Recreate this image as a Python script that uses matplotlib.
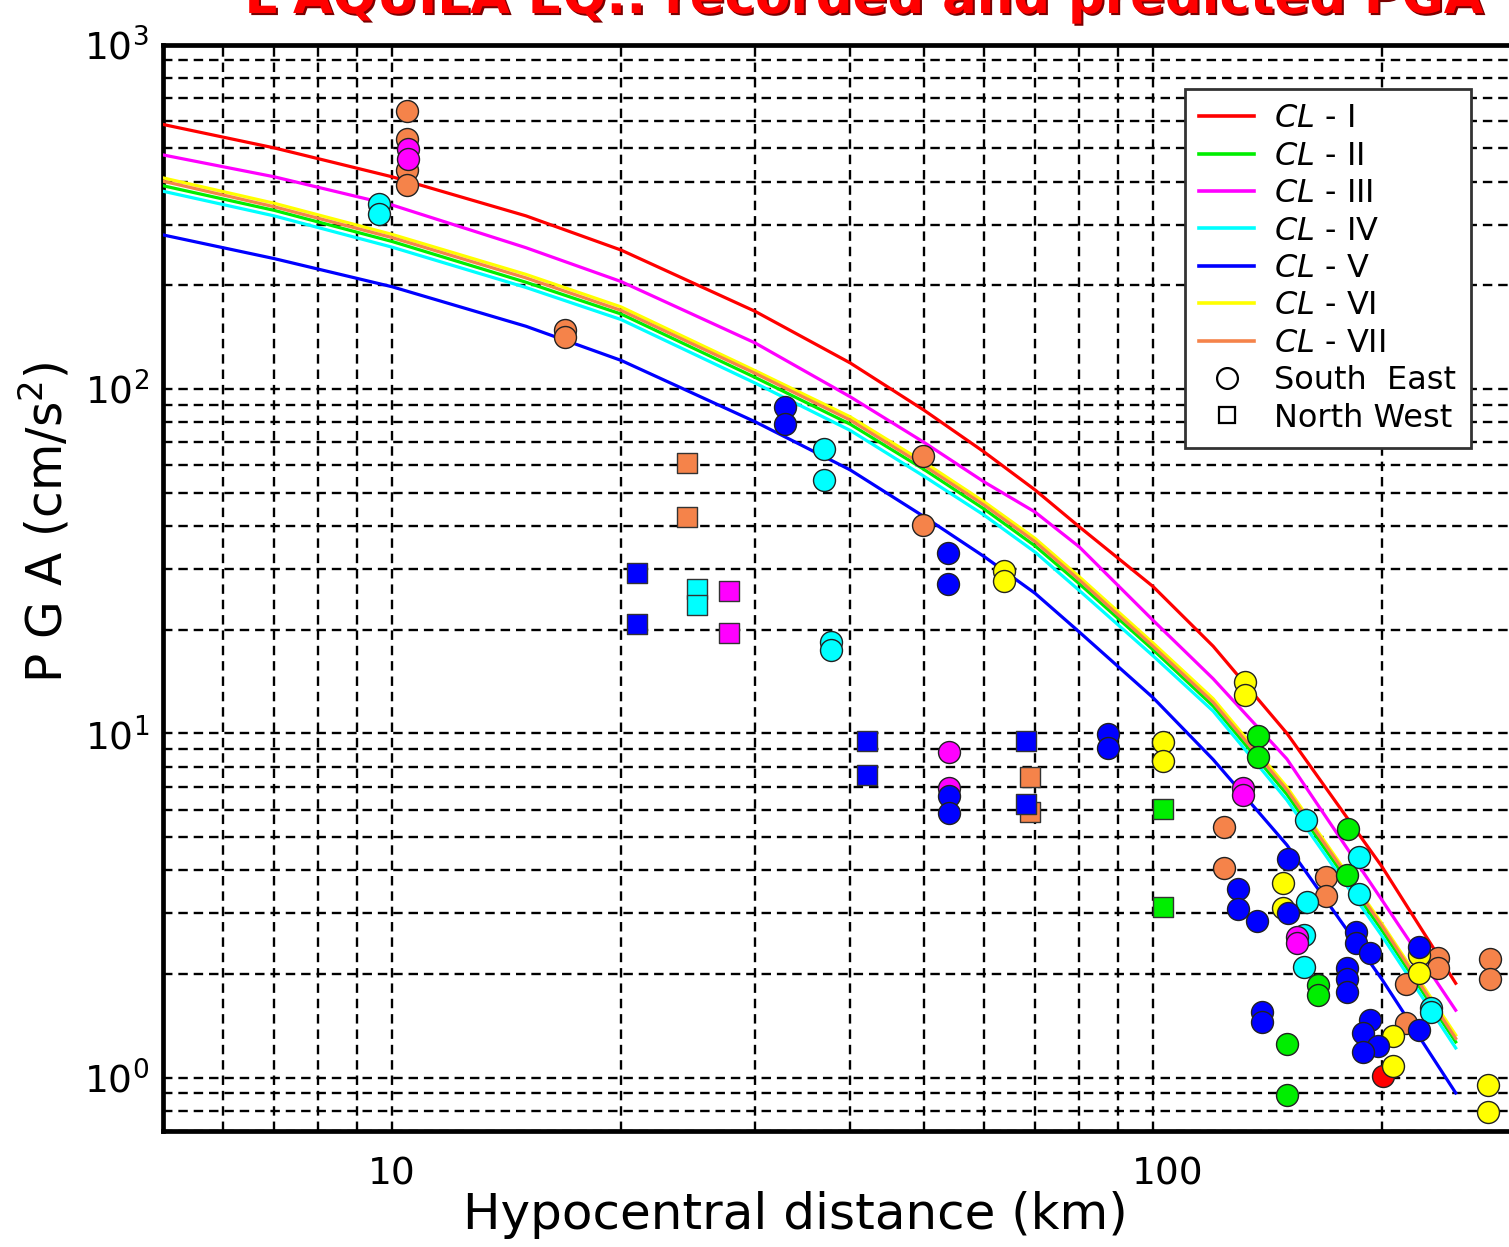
import matplotlib
matplotlib.use("Agg")
import matplotlib.pyplot as plt
import matplotlib.patheffects as pe
import matplotlib.transforms as mtransforms
from matplotlib.lines import Line2D
from matplotlib.ticker import FuncFormatter, NullFormatter, FixedLocator

plt.rcParams['font.family'] = ['DejaVu Sans']
plt.rcParams['mathtext.fontset'] = 'dejavusans'

# --- predicted curves (hypocentral distance km -> PGA cm/s2) ---
dist_curve = [5, 7, 10, 15, 20, 30, 40, 50, 60, 70, 80, 100, 120, 150, 200, 250]
cl_1 = [586, 501, 413, 318, 253, 168, 119, 86.8, 65.6, 50.9, 39.8, 26.7, 17.9, 10.0, 4.10, 1.88]
cl_2 = [389, 330, 268, 204, 165, 108, 79.0, 58.4, 44.8, 35.0, 27.2, 17.5, 12.0, 6.65, 2.68, 1.27]
cl_3 = [478, 413, 342, 257, 205, 136, 94.9, 70.0, 53.7, 43.9, 34.8, 21.3, 14.4, 8.42, 3.28, 1.57]
cl_4 = [375, 318, 258, 197, 159, 104, 75.8, 55.8, 43.0, 33.6, 26.0, 16.8, 11.6, 6.40, 2.58, 1.22]
cl_5 = [280, 239, 198, 152, 121, 80.3, 58.2, 42.6, 32.6, 25.5, 19.7, 12.7, 8.39, 4.74, 1.93, 0.903]
cl_6 = [410, 346, 281, 215, 173, 113, 83.0, 61.3, 47.0, 36.8, 28.5, 18.3, 12.6, 6.98, 2.80, 1.33]
cl_7 = [401, 338, 275, 210, 169, 111, 81.2, 59.9, 46.0, 36.0, 27.9, 17.9, 12.3, 6.85, 2.76, 1.30]

cl_names = ['CL - I', 'CL - II', 'CL - III', 'CL - IV', 'CL - V', 'CL - VI', 'CL - VII']
cl_colors = ['#ff0000', '#00ee00', '#ff00ff', '#00ffff', '#0000ff', '#ffff00', '#f5834a']

# --- recorded PGA, South East stations (circles) ---
se_orange_d = [10.45, 10.45, 10.45, 10.45, 16.9, 16.9, 49.9, 49.9, 124, 124, 169, 169, 215, 215, 237, 237, 277, 277]
se_orange_v = [641, 531, 432, 391, 148, 141.5, 63.9, 40.3, 5.36, 4.06, 3.83, 3.37, 1.87, 1.44, 2.22, 2.08, 2.21, 1.94]
se_magenta_d = [10.5, 10.5, 54.0, 54.0, 131.4, 131.4, 154.5, 154.5]
se_magenta_v = [496, 464, 8.81, 6.92, 6.92, 6.62, 2.57, 2.46]
se_cyan_d = [9.61, 9.61, 37.0, 37.0, 37.8, 37.8, 159, 186.7, 186.7, 159.5, 158, 158, 232, 232]
se_cyan_v = [344, 322, 66.9, 54.4, 18.4, 17.5, 5.60, 4.37, 3.41, 3.24, 2.60, 2.10, 1.59, 1.55]
se_yellow_d = [63.8, 63.8, 103, 103, 132, 132, 148.3, 148.3, 206.5, 206.5, 224, 224, 276, 276]
se_yellow_v = [29.5, 27.6, 9.42, 8.33, 14.1, 12.9, 3.67, 3.10, 1.32, 1.08, 2.27, 2.01, 0.953, 0.797]
se_green_d = [137.5, 137.5, 180.5, 179.7, 165, 165, 149.9, 149.9]
se_green_v = [9.83, 8.55, 5.27, 3.88, 1.86, 1.74, 1.25, 0.891]
se_red_d = [200.7]
se_red_v = [1.01]
se_blue_d = [32.8, 32.8, 53.8, 53.8, 54.0, 54.0, 87.3, 87.3, 150.6, 150.6, 129.5, 129.5, 137.1,
             184.8, 184.8, 192.8, 179.7, 179.7, 179.7, 224, 139, 139, 192.8, 188.8, 197.8, 188.8, 224]
se_blue_v = [88.8, 78.9, 33.4, 27.1, 6.59, 5.86, 9.95, 9.08, 4.32, 3.00, 3.53, 3.09, 2.86,
             2.65, 2.46, 2.30, 2.08, 1.94, 1.77, 2.40, 1.55, 1.45, 1.47, 1.35, 1.24, 1.19, 1.38]

# --- recorded PGA, North West stations (squares) ---
nw_orange_d = [24.4, 24.4, 68.9, 68.9]
nw_orange_v = [60.8, 42.6, 7.48, 5.92]
nw_blue_d = [21.0, 21.0, 42.1, 42.1, 68.2, 68.2]
nw_blue_v = [29.3, 20.7, 9.52, 7.56, 9.52, 6.23]
nw_cyan_d = [25.2, 25.2]
nw_cyan_v = [26.2, 23.6]
nw_magenta_d = [27.7, 27.7]
nw_magenta_v = [25.9, 19.6]
nw_green_d = [103, 103]
nw_green_v = [6.02, 3.14]

fig = plt.figure(figsize=(15.09, 12.47), dpi=100)
ax = fig.add_axes([0.108, 0.093, 0.8966, 0.8713])
ax.set_xscale('log')
ax.set_yscale('log')
ax.set_xlim(5, 300)
ax.set_ylim(0.7, 1000)

# curves
for vals, name, col in zip([cl_1, cl_2, cl_3, cl_4, cl_5, cl_6, cl_7], cl_names, cl_colors):
    ax.plot(dist_curve, vals, color=col, lw=2.3, zorder=3)

# recorded data
circle_sets = [
    (se_orange_d, se_orange_v, '#f5834a'),
    (se_cyan_d, se_cyan_v, '#00ffff'),
    (se_magenta_d, se_magenta_v, '#ff00ff'),
    (se_green_d, se_green_v, '#00ee00'),
    (se_red_d, se_red_v, '#ff0000'),
    (se_yellow_d, se_yellow_v, '#ffff00'),
    (se_blue_d, se_blue_v, '#0000ff'),
]
for d, v, col in circle_sets:
    ax.scatter(d, v, s=250, marker='o', facecolor=col, edgecolor='#222222', linewidth=1.0, zorder=4)

square_sets = [
    (nw_orange_d, nw_orange_v, '#f5834a'),
    (nw_blue_d, nw_blue_v, '#0000ff'),
    (nw_cyan_d, nw_cyan_v, '#00ffff'),
    (nw_magenta_d, nw_magenta_v, '#ff00ff'),
    (nw_green_d, nw_green_v, '#00ee00'),
]
for d, v, col in square_sets:
    ax.scatter(d, v, s=200, marker='s', facecolor=col, edgecolor='#333333', linewidth=1.0, zorder=4)

# grid and axes look
ax.grid(which='both', color='black', linestyle=(0, (4, 2.5)), linewidth=1.7, zorder=1)
for sp in ax.spines.values():
    sp.set_linewidth(3.4)
ax.tick_params(which='both', length=0)
ax.tick_params(axis='x', which='major', labelsize=27, pad=18)
ax.tick_params(axis='y', which='major', labelsize=27, pad=10)
ax.xaxis.set_major_locator(FixedLocator([10, 100]))
ax.xaxis.set_major_formatter(FuncFormatter(lambda x, p: '%d' % x))
ax.xaxis.set_minor_formatter(NullFormatter())
ax.yaxis.set_minor_formatter(NullFormatter())

# the "100" label sits a bit right of its grid line in the original
tick100 = ax.xaxis.get_major_ticks()[1]
tick100.label1.set_transform(tick100.label1.get_transform() +
                             mtransforms.ScaledTranslation(0.15, 0, fig.dpi_scale_trans))

# legend
handles = [Line2D([], [], color=c, lw=2.6) for c in cl_colors]
handles.append(Line2D([], [], marker='o', ls='none', mfc='white', mec='black', mew=1.6, ms=15))
handles.append(Line2D([], [], marker='s', ls='none', mfc='white', mec='black', mew=1.6, ms=12))
labels = [r'$\it{CL}$' + n[2:] for n in cl_names] + ['South  East', 'North West']
leg = ax.legend(handles, labels, loc='upper left', bbox_to_anchor=(0.7554, 0.959),
                bbox_transform=ax.transAxes, borderaxespad=0, fontsize=23,
                handlelength=1.7, handletextpad=0.65, labelspacing=0.2,
                borderpad=0.45, fancybox=False, framealpha=1, edgecolor='#333333')
leg.get_frame().set_linewidth(2.0)
leg.set_zorder(6)

# labels and title
fig.text(45 / 1509, 1 - 522 / 1247, 'P G A (cm/s$^2$)', rotation=90, ha='center', va='center', fontsize=35)
fig.text(795 / 1509, 1 - 1215 / 1247, 'Hypocentral distance (km)', ha='center', va='center', fontsize=36)
fig.text(864 / 1509, 1 - 13 / 1247, "L'AQUILA EQ.: recorded and predicted PGA", ha='center',
         va='baseline', fontsize=37, fontweight='bold', color='#ff0000',
         path_effects=[pe.withSimplePatchShadow(offset=(1.5, -1.5), shadow_rgbFace='#7a0000', alpha=1)])

fig.savefig('out.png', dpi=100)
